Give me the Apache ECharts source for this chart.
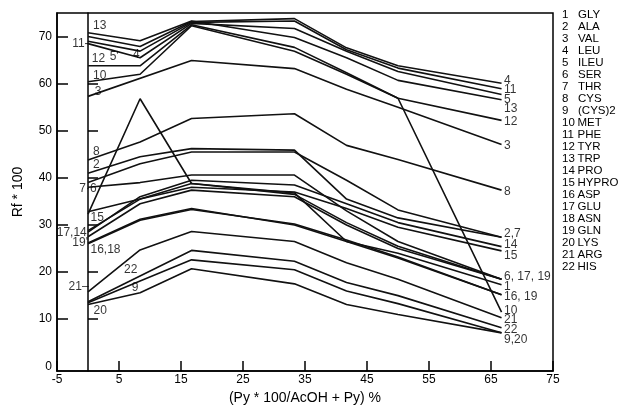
<!DOCTYPE html>
<html>
<head>
<meta charset="utf-8">
<script src="https://cdn.jsdelivr.net/npm/echarts@6/dist/echarts.min.js"></script>
<style>html,body{margin:0;padding:0;background:#fff}#c{width:631px;height:410px}</style>
</head>
<body>
<div id="c"></div>
<script>
// x positions (% pyridine)
const xs = [0, 8.4, 16.7, 33.3, 41.7, 50, 66.7];
// Rf*100 values per amino acid (null = no reading at that x)
const gly   = [32.3, 56.8, 38.8, 36.8, 26.5, 24.0, 17.3];
const ala   = [41.0, 44.5, 46.2, 45.9, 35.5, 31.5, 27.4];
const val   = [57.3, null, 64.9, 63.2, 58.8, 55.0, 47.1];
const leu   = [70.0, 67.9, 73.2, 73.8, 67.6, 63.8, 60.1];
const ileu  = [68.5, 65.5, 72.8, 71.7, 66.9, 62.6, 57.7];
const ser   = [38.0, 39.0, 40.6, 40.6, 33.0, 26.5, 18.5];
const thr   = [39.0, 43.0, 45.5, 45.5, 39.5, 33.2, 27.4];
const cys   = [43.8, 47.6, 52.6, 53.6, 46.9, 43.9, 37.4];
const cys2  = [13.5, 18.1, 22.6, 20.5, 16.0, 13.3, 7.1];
const met   = [60.4, 62.0, 72.3, 66.9, 62.0, 56.9, 11.5];
const phe   = [69.0, 66.9, 73.0, 73.3, 67.2, 63.3, 58.9];
const tyr   = [63.8, 63.8, 72.5, 67.7, 62.3, 56.9, 52.2];
const trp   = [70.8, 69.1, 73.3, 69.8, 65.5, 60.7, 56.6];
const pro   = [28.5, 36.0, 39.5, 38.5, 34.5, 30.5, 25.4];
const hypro = [32.8, 35.5, 38.0, 37.0, 33.5, 29.5, 24.5];
const asp   = [26.2, 31.2, 33.5, 30.0, 26.5, 23.0, 15.2];
const glu   = [28.8, 35.5, 38.8, 36.5, 30.5, 25.5, 18.5];
const asn   = [26.0, 31.0, 33.3, 30.2, 26.8, 23.2, 15.2];
const gln   = [27.5, 34.5, 37.4, 36.0, 30.0, 25.0, 18.5];
const lys   = [13.1, 15.6, 20.7, 17.5, 13.1, 11.0, 7.1];
const arg   = [15.8, 24.7, 28.6, 26.5, 22.0, 18.5, 10.3];
const his   = [13.7, null, 24.6, 22.3, 17.8, 15.0, 8.2];

const seriesVals = [gly, ala, val, leu, ileu, ser, thr, cys, cys2, met, phe, tyr, trp, pro, hypro, asp, glu, asn, gln, lys, arg, his];
const legendNums  = ['1','2','3','4','5','6','7','8','9','10','11','12','13','14','15','16','17','18','19','20','21','22'];
const legendNames = ['GLY','ALA','VAL','LEU','ILEU','SER','THR','CYS','(CYS)2','MET','PHE','TYR','TRP','PRO','HYPRO','ASP','GLU','ASN','GLN','LYS','ARG','HIS'];

// y tick labels / ticks
const yTickLabels = [0, 10, 20, 30, 40, 50, 60, 70];
const yTicks = [10, 20, 30, 40, 50, 60, 70];
const innerTicks = [10, 20, 30, 40, 50, 60];

// curve labels: [text, x, y, side]
const rightLabels = [
  ['4', 67.1, 60.7], ['11', 67.1, 58.7], ['5', 67.1, 56.7], ['13', 67.1, 54.7],
  ['12', 67.1, 51.9], ['3', 67.1, 46.9], ['8', 67.1, 37.0], ['2,7', 67.1, 28.1],
  ['14', 67.1, 25.8], ['15', 67.1, 23.5], ['6, 17, 19', 67.1, 19.1], ['1', 67.1, 16.8],
  ['16, 19', 67.1, 14.7], ['10', 67.1, 11.7], ['21', 67.1, 9.9], ['22', 67.1, 7.8], ['9,20', 67.1, 5.7]
];
const leftLabels = [
  ['13', 0.8, 72.3, 'right'], ['11-', 0.1, 68.5, 'left'], ['12', 0.6, 65.3, 'right'],
  ["5'", 3.5, 65.7, 'right'], ['4', 7.8, 66.2, 'inside'], ['10', 0.8, 61.7, 'right'],
  ['3', 1.1, 58.2, 'right'], ['8', 0.8, 45.5, 'right'], ['2', 0.8, 42.7, 'right'],
  ['7·6', 0.0, 37.8, 'inside'], ['15', 0.4, 31.6, 'right'], ['17,14', -0.2, 28.4, 'left'],
  ["19'", 0.0, 26.2, 'left'], ['16,18', 0.4, 24.7, 'right'], ['22', 6.9, 20.5, 'inside'],
  ['21–', 0.1, 17.0, 'left'], ['9', 7.6, 16.6, 'inside'], ['20', 0.9, 11.9, 'right']
];

const FONT = 'Liberation Sans, Arial, sans-serif';
const chart = echarts.init(document.getElementById('c'), null, {renderer: 'canvas'});

const lineSeries = seriesVals.map((vals, k) => ({
  name: legendNames[k],
  type: 'line',
  data: xs.map((x, i) => [x, vals[i]]).filter(d => d[1] !== null),
  symbol: 'none',
  lineStyle: {color: '#111', width: 1.6},
  itemStyle: {color: '#111'},
  silent: true,
  z: 3
}));

const labelSeries = {
  type: 'scatter',
  symbolSize: 0,
  silent: true,
  z: 5,
  data: rightLabels.map(l => ({value: [l[1], l[2]], label: {show: true, position: 'right', distance: 0, formatter: l[0]}}))
    .concat(leftLabels.map(l => ({value: [l[1], l[2]], label: {show: true, position: l[3], distance: 0, formatter: l[0]}}))),
  label: {color: '#000', fontSize: 12, fontFamily: FONT}
};

const legendGraphic = [];
legendNums.forEach((n, i) => {
  const y = 15 + i * 12;
  legendGraphic.push({type: 'text', x: 562, y: y, style: {text: n, font: '11.5px ' + FONT, fill: '#000', verticalAlign: 'middle'}});
  legendGraphic.push({type: 'text', x: n.length === 1 ? 578 : 577.5, y: y, style: {text: legendNames[i], font: '11.5px ' + FONT, fill: '#000', verticalAlign: 'middle'}});
});

chart.setOption({
  animation: false,
  backgroundColor: '#fff',
  grid: {left: 57, right: 78, top: 13, bottom: 38, show: true, borderColor: '#000', borderWidth: 1.5, containLabel: false},
  xAxis: {
    type: 'value', min: -5, max: 75, interval: 10,
    axisLine: {onZero: false, lineStyle: {color: '#000', width: 1.5}},
    axisTick: {inside: true, length: 10, lineStyle: {color: '#000', width: 1.5}},
    axisLabel: {margin: 3, color: '#000', fontSize: 12, fontFamily: FONT, showMinLabel: true, showMaxLabel: true},
    splitLine: {show: false},
    name: '(Py * 100/AcOH + Py) %', nameLocation: 'middle', nameGap: 20,
    nameTextStyle: {color: '#000', fontSize: 14, fontFamily: FONT}
  },
  yAxis: [{
    type: 'value', min: -1, max: 75, position: 'left',
    axisLine: {show: true, onZero: false, lineStyle: {color: '#000', width: 1.5}},
    axisTick: {show: true, inside: true, length: 11, customValues: yTicks, lineStyle: {color: '#000', width: 1.5}},
    axisLabel: {customValues: yTickLabels, margin: 5, color: '#000', fontSize: 12, fontFamily: FONT},
    splitLine: {show: false},
    name: 'Rf * 100', nameLocation: 'middle', nameGap: 32, nameRotate: 90,
    nameTextStyle: {color: '#000', fontSize: 14, fontFamily: FONT}
  }, {
    type: 'value', min: -1, max: 75, position: 'left',
    axisLine: {show: true, onZero: true, lineStyle: {color: '#000', width: 1.5}},
    axisTick: {show: true, inside: true, length: 10, customValues: innerTicks, lineStyle: {color: '#000', width: 1.5}},
    axisLabel: {show: false},
    splitLine: {show: false}
  }],
  series: lineSeries.concat([labelSeries]),
  graphic: legendGraphic
});
</script>
</body>
</html>
